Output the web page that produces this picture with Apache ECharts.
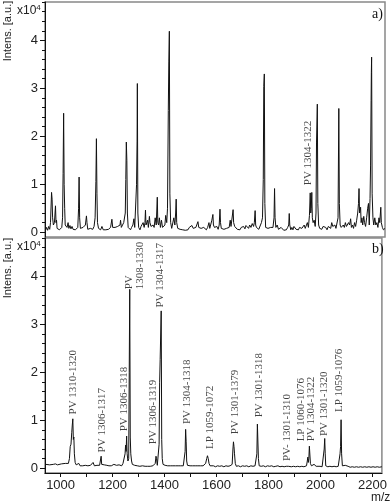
<!DOCTYPE html>
<html>
<head>
<meta charset="utf-8">
<script src="https://cdn.jsdelivr.net/npm/echarts@6/dist/echarts.min.js"></script>
<style>
  html, body { margin: 0; padding: 0; background: #fff; }
  #chart { width: 390px; height: 504px; }
</style>
</head>
<body>
<div id="chart"></div>
<script>
// Espectros de masas: a) arriba, b) abajo. Intensidad en unidades de 10^4
const mzRange = [940, 2236];
const yRange = [-0.1, 4.8];
const yMajorTicks = [0, 1, 2, 3, 4];
const yMinorTicks = [0.2, 0.4, 0.6, 0.8, 1.2, 1.4, 1.6, 1.8, 2.2, 2.4, 2.6, 2.8,
  3.2, 3.4, 3.6, 3.8, 4.2, 4.4, 4.6, 4.8];
const xTicks = [1000, 1100, 1200, 1300, 1400, 1500, 1600, 1700, 1800, 1900, 2000, 2100, 2200];
const xLabels = [1000, 1200, 1400, 1600, 1800, 2000, 2200];

// [m/z, intensidad]
const spectrumA = [
  [943, 0.05], [946, 0.1], [950, 0.04], [954, 0.12], [958, 0.06], [961, 0.2], [965, 0.83], [967, 0.69],
  [969, 0.3], [972, 0.15], [976, 0.2], [980, 0.55], [982, 0.2], [984, 0.25], [986, 0.08], [990, 0.07],
  [995, 0.05], [1000, 0.06], [1004, 0.1], [1007, 0.3], [1009, 1.22], [1011, 2.48], [1013, 1.0], [1015, 0.5],
  [1017, 0.15], [1020, 0.12], [1024, 0.1], [1028, 0.2], [1031, 0.08], [1035, 0.14], [1039, 0.07], [1043, 0.12],
  [1047, 0.06], [1052, 0.1], [1056, 0.05], [1060, 0.08], [1065, 0.1], [1068, 0.5], [1070, 1.15], [1072, 0.3],
  [1075, 0.08], [1080, 0.05], [1085, 0.1], [1090, 0.07], [1094, 0.15], [1098, 0.34], [1100, 0.2], [1103, 0.06],
  [1108, 0.05], [1113, 0.08], [1118, 0.1], [1122, 0.06], [1127, 0.12], [1131, 0.3], [1134, 1.06], [1136, 1.95],
  [1138, 0.8], [1140, 0.2], [1144, 0.08], [1148, 0.1], [1152, 0.05], [1157, 0.12], [1162, 0.05], [1167, 0.08],
  [1172, 0.05], [1177, 0.07], [1182, 0.06], [1186, 0.08], [1190, 0.1], [1195, 0.27], [1198, 0.1], [1202, 0.06],
  [1207, 0.1], [1212, 0.06], [1217, 0.12], [1222, 0.08], [1226, 0.15], [1228, 0.25], [1231, 0.1], [1235, 0.08],
  [1240, 0.2], [1246, 0.4], [1248, 1.1], [1250, 1.88], [1252, 1.5], [1254, 0.4], [1257, 0.1], [1262, 0.08],
  [1266, 0.05], [1270, 0.1], [1275, 0.15], [1279, 0.28], [1282, 0.1], [1286, 0.12], [1289, 1.0], [1291, 1.9],
  [1292, 3.1], [1294, 0.4], [1297, 0.1], [1302, 0.05], [1306, 0.12], [1310, 0.08], [1314, 0.2], [1318, 0.1],
  [1321, 0.2], [1323, 0.46], [1325, 0.15], [1328, 0.2], [1331, 0.25], [1334, 0.1], [1338, 0.33], [1340, 0.2],
  [1344, 0.12], [1348, 0.08], [1352, 0.15], [1356, 0.1], [1360, 0.3], [1364, 0.15], [1368, 0.73], [1370, 0.2],
  [1373, 0.15], [1376, 0.3], [1380, 0.1], [1384, 0.25], [1388, 0.1], [1392, 0.08], [1397, 0.15], [1400, 0.35],
  [1404, 0.2], [1407, 0.5], [1410, 2.54], [1412, 3.55], [1414, 4.19], [1416, 0.8], [1419, 0.2], [1423, 0.08],
  [1427, 0.1], [1431, 0.3], [1435, 0.15], [1438, 0.4], [1440, 0.69], [1442, 0.2], [1446, 0.08], [1450, 0.05],
  [1455, 0.06], [1460, 0.04], [1465, 0.05], [1470, 0.07], [1475, 0.04], [1480, 0.06], [1485, 0.05], [1490, 0.1],
  [1495, 0.06], [1500, 0.14], [1505, 0.08], [1510, 0.06], [1515, 0.1], [1519, 0.12], [1523, 0.22], [1526, 0.1],
  [1530, 0.06], [1535, 0.08], [1540, 0.05], [1545, 0.1], [1550, 0.06], [1555, 0.05], [1560, 0.1], [1565, 0.2],
  [1568, 0.08], [1572, 0.12], [1576, 0.25], [1580, 0.37], [1582, 0.15], [1586, 0.1], [1590, 0.08], [1595, 0.12],
  [1600, 0.06], [1604, 0.15], [1607, 0.48], [1609, 0.2], [1612, 0.08], [1617, 0.05], [1622, 0.06], [1627, 0.1],
  [1632, 0.08], [1637, 0.12], [1642, 0.1], [1646, 0.25], [1649, 0.12], [1653, 0.15], [1657, 0.47], [1659, 0.2],
  [1663, 0.12], [1668, 0.08], [1673, 0.06], [1678, 0.1], [1683, 0.05], [1688, 0.1], [1693, 0.08], [1697, 0.12],
  [1702, 0.07], [1706, 0.14], [1711, 0.1], [1716, 0.08], [1720, 0.15], [1725, 0.1], [1730, 0.18], [1735, 0.12],
  [1738, 0.2], [1741, 0.45], [1743, 0.15], [1746, 0.1], [1750, 0.08], [1755, 0.06], [1760, 0.1], [1765, 0.2],
  [1769, 0.3], [1772, 1.1], [1774, 3.04], [1776, 3.3], [1778, 0.6], [1781, 0.1], [1785, 0.06], [1790, 0.08],
  [1795, 0.05], [1800, 0.1], [1805, 0.06], [1809, 0.1], [1813, 0.3], [1815, 0.91], [1817, 0.3], [1820, 0.1],
  [1825, 0.15], [1830, 0.06], [1835, 0.05], [1840, 0.1], [1845, 0.08], [1850, 0.04], [1855, 0.06], [1860, 0.05],
  [1865, 0.1], [1869, 0.15], [1871, 0.39], [1873, 0.15], [1877, 0.05], [1881, 0.1], [1885, 0.05], [1889, 0.12],
  [1893, 0.1], [1897, 0.06], [1901, 0.08], [1906, 0.05], [1910, 0.1], [1915, 0.06], [1919, 0.08], [1924, 0.1],
  [1928, 0.15], [1932, 0.08], [1936, 0.12], [1940, 0.2], [1944, 0.1], [1948, 0.35], [1951, 0.82], [1953, 0.4],
  [1955, 0.5], [1957, 0.83], [1959, 0.3], [1962, 0.2], [1966, 0.25], [1970, 0.12], [1973, 0.4], [1975, 1.88],
  [1978, 2.67], [1980, 0.6], [1983, 0.15], [1987, 0.08], [1991, 0.1], [1995, 0.06], [2000, 0.12], [2005, 0.08],
  [2010, 0.1], [2015, 0.05], [2020, 0.12], [2025, 0.15], [2029, 0.08], [2033, 0.2], [2037, 0.12], [2041, 0.1],
  [2045, 0.15], [2049, 0.08], [2053, 0.1], [2057, 0.3], [2060, 2.58], [2062, 0.6], [2065, 0.15], [2069, 0.1],
  [2073, 0.08], [2077, 0.15], [2081, 0.1], [2085, 0.2], [2089, 0.12], [2093, 0.08], [2097, 0.2], [2101, 0.15],
  [2105, 0.28], [2108, 0.1], [2112, 0.15], [2116, 0.08], [2120, 0.2], [2124, 0.12], [2128, 0.25], [2132, 0.4],
  [2135, 0.6], [2137, 0.91], [2139, 0.4], [2141, 0.45], [2143, 0.52], [2145, 0.2], [2148, 0.3], [2151, 0.15],
  [2155, 0.33], [2158, 0.2], [2162, 0.12], [2166, 0.3], [2170, 0.5], [2173, 0.6], [2176, 0.15], [2179, 0.7],
  [2181, 1.4], [2183, 2.75], [2184, 3.33], [2185, 3.65], [2187, 0.8], [2190, 0.3], [2193, 0.15], [2197, 0.3],
  [2201, 0.15], [2205, 0.2], [2209, 0.1], [2213, 0.3], [2216, 0.2], [2220, 0.52], [2222, 0.2], [2226, 0.1],
  [2230, 0.05], [2236, 0.08]
];

const spectrumB = [
  [943, 0.08], [950, 0.09], [958, 0.07], [965, 0.09], [972, 0.08], [980, 0.09], [988, 0.07], [995, 0.08],
  [1003, 0.09], [1010, 0.08], [1018, 0.1], [1025, 0.08], [1030, 0.1], [1034, 0.2], [1037, 0.45], [1040, 0.5],
  [1043, 0.75], [1045, 0.9], [1047, 1.03], [1049, 0.6], [1051, 0.65], [1053, 0.3], [1056, 0.12], [1060, 0.07],
  [1065, 0.06], [1070, 0.1], [1075, 0.05], [1080, 0.06], [1085, 0.05], [1090, 0.07], [1095, 0.06], [1100, 0.1],
  [1105, 0.05], [1110, 0.08], [1115, 0.06], [1120, 0.07], [1125, 0.12], [1130, 0.05], [1135, 0.08], [1140, 0.06],
  [1145, 0.1], [1150, 0.06], [1154, 0.1], [1156, 0.25], [1158, 0.08], [1163, 0.05], [1168, 0.07], [1173, 0.05],
  [1178, 0.06], [1182, 0.1], [1186, 0.05], [1190, 0.07], [1195, 0.05], [1200, 0.06], [1205, 0.08], [1210, 0.05],
  [1215, 0.06], [1220, 0.05], [1225, 0.07], [1230, 0.06], [1235, 0.05], [1240, 0.1], [1245, 0.08], [1248, 0.3],
  [1250, 0.48], [1252, 0.35], [1254, 0.67], [1256, 0.3], [1259, 0.15], [1262, 0.2], [1264, 2.0], [1266, 3.73],
  [1268, 0.65], [1270, 0.3], [1273, 0.15], [1276, 0.08], [1280, 0.1], [1285, 0.06], [1290, 0.08], [1295, 0.05],
  [1300, 0.06], [1305, 0.04], [1310, 0.07], [1315, 0.05], [1320, 0.06], [1325, 0.04], [1330, 0.05], [1335, 0.04],
  [1340, 0.05], [1345, 0.04], [1350, 0.06], [1355, 0.05], [1360, 0.06], [1364, 0.1], [1367, 0.25], [1369, 0.2],
  [1372, 0.06], [1376, 0.1], [1379, 0.5], [1381, 1.78], [1383, 2.27], [1385, 2.3], [1387, 3.28], [1389, 0.6],
  [1391, 0.2], [1394, 0.08], [1398, 0.05], [1402, 0.06], [1407, 0.04], [1412, 0.05], [1417, 0.04], [1422, 0.05],
  [1427, 0.04], [1432, 0.05], [1437, 0.04], [1442, 0.05], [1447, 0.04], [1452, 0.05], [1457, 0.04], [1462, 0.05],
  [1467, 0.04], [1472, 0.05], [1476, 0.08], [1479, 0.35], [1481, 0.81], [1483, 0.55], [1485, 0.15], [1488, 0.06],
  [1493, 0.04], [1498, 0.05], [1503, 0.04], [1508, 0.05], [1513, 0.04], [1518, 0.05], [1523, 0.04], [1528, 0.05],
  [1533, 0.04], [1538, 0.05], [1543, 0.04], [1548, 0.05], [1553, 0.06], [1558, 0.1], [1562, 0.2], [1565, 0.26],
  [1568, 0.2], [1571, 0.1], [1575, 0.05], [1580, 0.04], [1588, 0.05], [1596, 0.03], [1604, 0.05], [1612, 0.04],
  [1620, 0.05], [1628, 0.03], [1636, 0.05], [1644, 0.04], [1652, 0.05], [1660, 0.08], [1663, 0.4], [1665, 0.55],
  [1667, 0.45], [1669, 0.3], [1672, 0.1], [1676, 0.04], [1684, 0.05], [1692, 0.03], [1700, 0.05], [1708, 0.04],
  [1716, 0.05], [1724, 0.03], [1732, 0.05], [1740, 0.04], [1748, 0.05], [1752, 0.06], [1755, 0.3], [1757, 0.92],
  [1759, 0.9], [1761, 0.2], [1764, 0.05], [1772, 0.04], [1780, 0.05], [1788, 0.03], [1796, 0.05], [1804, 0.04],
  [1812, 0.05], [1820, 0.03], [1828, 0.04], [1836, 0.05], [1844, 0.03], [1852, 0.04], [1860, 0.03], [1868, 0.04],
  [1876, 0.04], [1878, 0.08], [1880, 0.04], [1888, 0.03], [1896, 0.04], [1904, 0.03], [1912, 0.04], [1920, 0.03],
  [1928, 0.04], [1936, 0.03], [1942, 0.04], [1946, 0.05], [1949, 0.15], [1951, 0.23], [1953, 0.12], [1955, 0.2],
  [1957, 0.46], [1959, 0.45], [1961, 0.1], [1965, 0.05], [1970, 0.04], [1975, 0.08], [1977, 0.12], [1979, 0.06],
  [1983, 0.04], [1990, 0.03], [1998, 0.04], [2006, 0.03], [2012, 0.05], [2014, 0.4], [2016, 0.62], [2018, 0.3],
  [2020, 0.05], [2028, 0.03], [2036, 0.04], [2044, 0.03], [2052, 0.04], [2060, 0.03], [2068, 0.04], [2073, 0.05],
  [2075, 0.3], [2077, 0.45], [2079, 1.01], [2081, 0.3], [2084, 0.05], [2090, 0.03], [2095, 0.06], [2098, 0.03],
  [2106, 0.04], [2114, 0.02], [2122, 0.03], [2130, 0.02], [2138, 0.03], [2146, 0.02], [2154, 0.03], [2162, 0.02],
  [2170, 0.03], [2178, 0.02], [2186, 0.03], [2194, 0.02], [2202, 0.03], [2210, 0.02], [2218, 0.03], [2226, 0.02],
  [2236, 0.03]
];

// etiquetas de picos: m/z del centro del texto, intensidad donde empieza el texto
const labelsA = [[1943, 0.98]];
const labelsATxt = ['PV 1304-1322'];

const labelsB = [
  [1049, 1.12], [1160, 0.33], [1243, 0.77], [1283, 3.73], [1384, 3.35], [1357, 0.5], [1487, 0.92],
  [1574, 0.4], [1673, 0.71], [1764, 1.06], [1871, 0.15], [1924, 0.56], [1962, 0.56], [2015, 0.67], [2072, 1.17]
];
const labelsBTxt = [
  'PV 1310-1320', 'PV 1306-1317', 'PV 1306-1318', 'PV\n1308-1330', 'PV 1304-1317', 'PV 1306-1319',
  'PV 1304-1318', 'LP 1059-1072', 'PV 1301-1379', 'PV 1301-1318', 'PV- 1301-1310', 'LP 1060-1076',
  'PV 1304-1322', 'PV 1301-1320', 'LP 1059-1076'
];

const sans = 'Liberation Sans, Arial, sans-serif';
const serif = 'Liberation Serif, Times New Roman, serif';

function xAxisFor(gridIndex, showLabels) {
  return {
    type: 'value', gridIndex: gridIndex, min: mzRange[0], max: mzRange[1],
    splitLine: { show: false },
    axisLine: { show: showLabels, onZero: false, lineStyle: { color: '#111', width: 1 } },
    axisTick: { show: showLabels, customValues: xTicks, length: 4, lineStyle: { color: '#111' } },
    axisLabel: {
      show: showLabels, customValues: xLabels, margin: 6,
      formatter: (v) => String(v),
      fontFamily: sans, fontSize: 13, color: '#222'
    }
  };
}

function yAxesFor(gridIndex) {
  return [{
    type: 'value', gridIndex: gridIndex, min: yRange[0], max: yRange[1],
    splitLine: { show: false },
    axisLine: { show: true, onZero: false, lineStyle: { color: '#111', width: 1 } },
    axisTick: { show: true, customValues: yMajorTicks, length: 5, lineStyle: { color: '#111' } },
    axisLabel: { customValues: yMajorTicks, margin: 7, fontFamily: sans, fontSize: 13, color: '#222' }
  }, {
    type: 'value', gridIndex: gridIndex, min: yRange[0], max: yRange[1], position: 'left',
    splitLine: { show: false },
    axisLine: { show: false },
    axisTick: { show: true, customValues: yMinorTicks, length: 3, lineStyle: { color: '#111' } },
    axisLabel: { show: false }
  }];
}

function labelSeries(xi, yi, pts, txt) {
  return {
    type: 'scatter', xAxisIndex: xi, yAxisIndex: yi, symbolSize: 0,
    itemStyle: { color: 'transparent' }, silent: true,
    data: pts.map((p, i) => ({ value: p, name: txt[i] })),
    label: {
      show: true, formatter: '{b}', position: [0, 0], rotate: 90,
      align: 'left', verticalAlign: 'middle',
      fontFamily: serif, fontSize: 11, lineHeight: 11, color: '#111'
    }
  };
}

const chart = echarts.init(document.getElementById('chart'), null, { renderer: 'canvas' });
chart.setOption({
  animation: false,
  backgroundColor: '#fff',
  grid: [
    { left: 45, top: 2, width: 340, height: 235, show: true, borderColor: '#888', borderWidth: 1.5, backgroundColor: 'transparent' },
    { left: 45, top: 238, width: 340, height: 235, show: true, borderColor: '#888', borderWidth: 1.5, backgroundColor: 'transparent' }
  ],
  xAxis: [xAxisFor(0, false), xAxisFor(1, true)],
  yAxis: yAxesFor(0).concat(yAxesFor(1)),
  graphic: [
    { type: 'text', x: 8, y: 31, rotation: Math.PI / 2,
      style: { text: 'Intens. [a.u.]', font: '11px ' + sans, fill: '#222', textAlign: 'center', textVerticalAlign: 'middle' } },
    { type: 'text', x: 8, y: 268, rotation: Math.PI / 2,
      style: { text: 'Intens. [a.u.]', font: '11px ' + sans, fill: '#222', textAlign: 'center', textVerticalAlign: 'middle' } },
    { type: 'text', x: 17, y: 4,
      style: { text: '{b|x10}{s|4}', rich: { b: { fontFamily: sans, fontSize: 12, fill: '#222' }, s: { fontFamily: sans, fontSize: 8, fill: '#222', verticalAlign: 'top', padding: [0, 0, 6, 0] } } } },
    { type: 'text', x: 17, y: 240,
      style: { text: '{b|x10}{s|4}', rich: { b: { fontFamily: sans, fontSize: 12, fill: '#222' }, s: { fontFamily: sans, fontSize: 8, fill: '#222', verticalAlign: 'top', padding: [0, 0, 6, 0] } } } },
    { type: 'text', x: 372, y: 7, style: { text: 'a)', font: '14px ' + serif, fill: '#111' } },
    { type: 'text', x: 372, y: 242, style: { text: 'b)', font: '14px ' + serif, fill: '#111' } },
    { type: 'text', x: 371, y: 492, style: { text: 'm/z', font: '12px ' + sans, fill: '#222' } }
  ],
  series: [
    { type: 'line', xAxisIndex: 0, yAxisIndex: 0, data: spectrumA, showSymbol: false, silent: true,
      lineStyle: { color: '#111', width: 1 } },
    { type: 'line', xAxisIndex: 1, yAxisIndex: 2, data: spectrumB, showSymbol: false, silent: true,
      lineStyle: { color: '#111', width: 1 } },
    labelSeries(0, 0, labelsA, labelsATxt),
    labelSeries(1, 2, labelsB, labelsBTxt)
  ]
});
</script>
</body>
</html>
